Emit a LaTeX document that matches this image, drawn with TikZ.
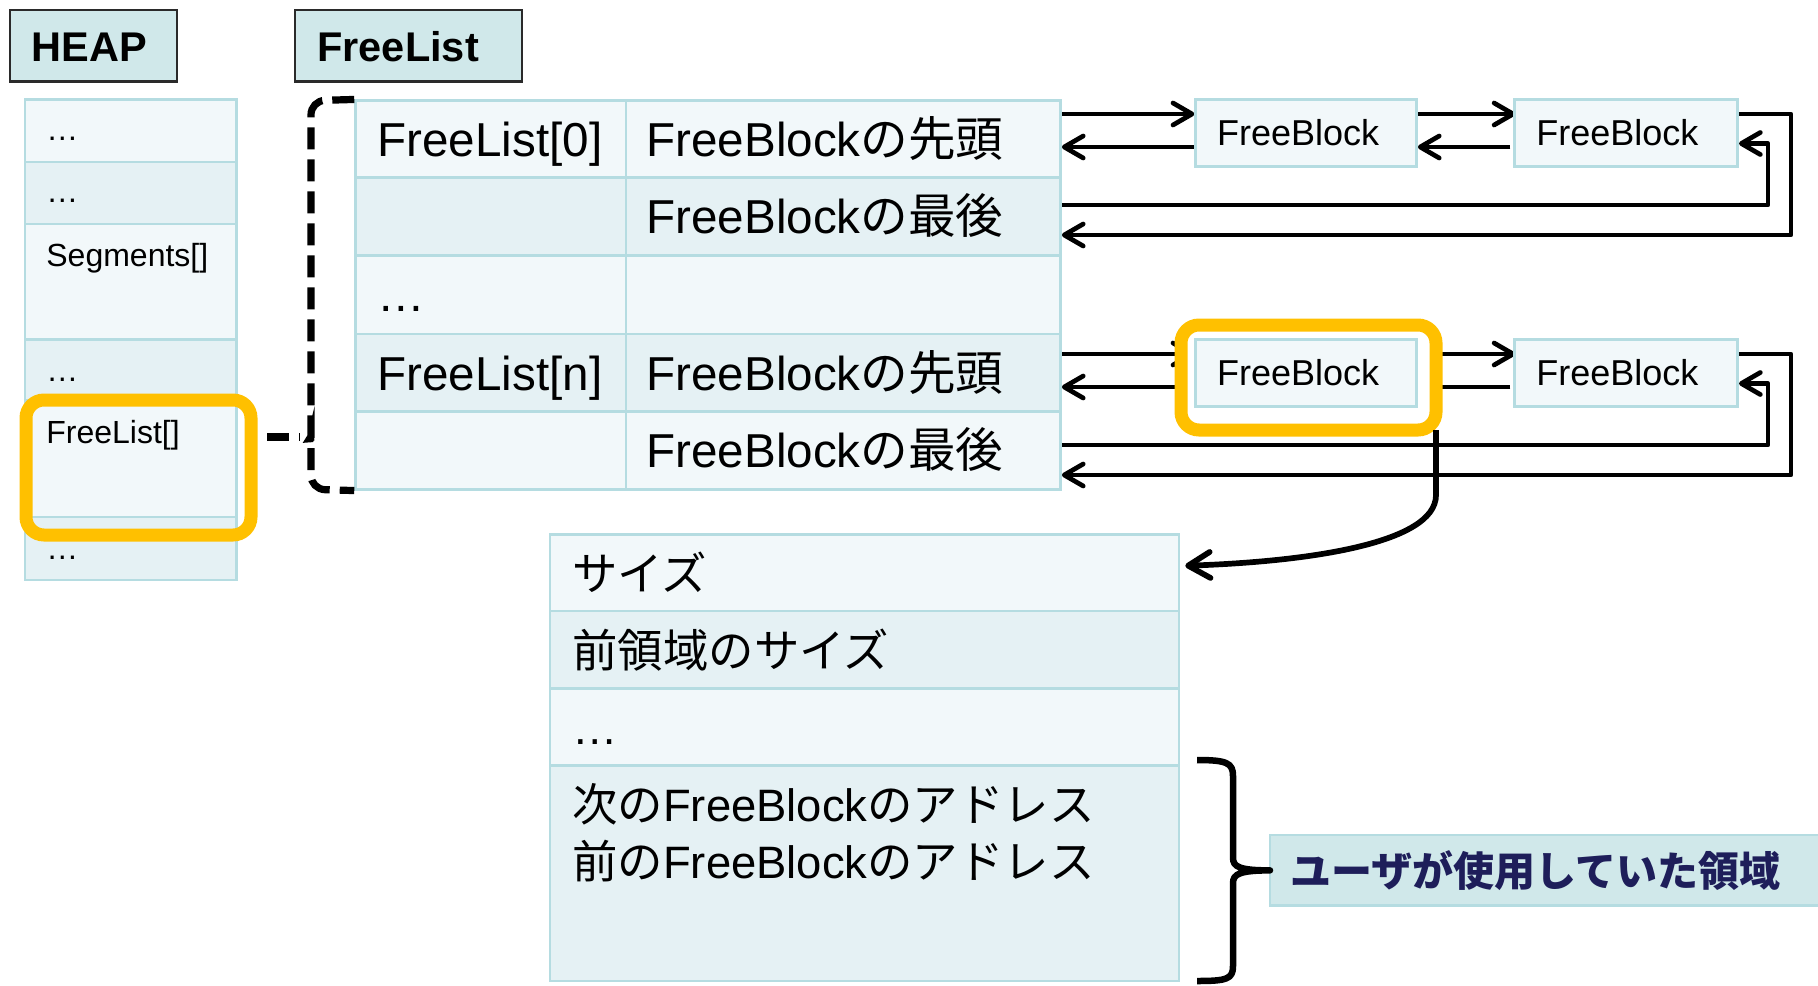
\documentclass[tikz,border=0pt]{standalone}
\usepackage{fontspec}
\setmainfont{Liberation Sans}
\newfontfamily\jp{Noto Sans CJK JP}
\usetikzlibrary{arrows.meta,fit}
\pgfdeclarelayer{wires}
\pgfsetlayers{wires,main}
\definecolor{hdrfill}{HTML}{D0E8EA}
\definecolor{hdrline}{HTML}{2A2A2A}
\definecolor{celllight}{HTML}{F2F8FA}
\definecolor{celldark}{HTML}{E5F1F4}
\definecolor{cellline}{HTML}{B5DCE1}
\definecolor{hlorange}{HTML}{FFC000}
\definecolor{navy}{HTML}{1E1E5A}
\begin{document}
\begin{tikzpicture}[x=0.5pt, y=-0.5pt,
  hdr/.style={draw=hdrline, fill=hdrfill, line width=1.35pt, inner sep=0pt},
  cellL/.style={draw=cellline, fill=celllight, line width=1.25pt, inner sep=0pt},
  cellD/.style={cellL, fill=celldark},
  tagbox/.style={draw=cellline, fill=hdrfill, line width=1.25pt, inner sep=0pt, outer sep=0pt},
  hilite/.style={draw=hlorange, line width=6.5pt, rounded corners=9pt, inner sep=0pt, outer sep=0pt},
  txt/.style={inner sep=0pt, anchor=base west},
  hdrtxt/.style={txt, font=\fontsize{20.75pt}{24pt}\selectfont\bfseries},
  heaptxt/.style={txt, font=\fontsize{16pt}{19pt}\selectfont},
  listtxt/.style={txt, font=\fontsize{23.8pt}{28pt}\selectfont},
  blktxt/.style={txt, font=\fontsize{18pt}{21pt}\selectfont},
  areatxt/.style={txt, font=\fontsize{22.7pt}{28pt}\selectfont},
  wire/.style={line width=2.35pt, line join=round},
  ptr/.style={wire, -{Straight Barb[length=9.5pt,width=11pt,round]}},
  bigptr/.style={line width=2.85pt, -{Straight Barb[length=11pt,width=13pt,round]}},
  dashwire/.style={line width=3.6pt, dash pattern=on 11pt off 5pt},
  brace/.style={line width=3.25pt, line join=round}]

\useasboundingbox (0,0) rectangle (1818,985);

% ---------- headers ----------
\node[hdr, fit={(10,10) (177,81.5)}] (heaphdr) {};
\node[hdrtxt] (heaphdrt) at (31.4,61) {HEAP};
\node[hdr, fit={(295,10) (522,81.5)}] (flhdr) {};
\node[hdrtxt] (flhdrt) at (317,61) {FreeList};

% ---------- heap column ----------
\node[cellL, fit={(25,99.5) (236.7,162)}] (h1) {};
\node[cellD, fit={(25,162) (236.7,224)}] (h2) {};
\node[cellL, fit={(25,224) (236.7,339.5)}] (h3) {};
\node[cellD, fit={(25,339.5) (236.7,400)}] (h4) {};
\node[cellL, fit={(25,400) (236.7,517)}] (h5) {};
\node[cellD, fit={(25,517) (236.7,580)}] (h6) {};
\node[heaptxt] (h1t) at (46,140) {…};
\node[heaptxt] (h2t) at (46,202) {…};
\node[heaptxt] (h3t) at (46,266) {Segments[]};
\node[heaptxt] (h4t) at (46,381) {…};
\node[heaptxt] (h5t) at (46,443) {FreeList[]};
\node[heaptxt] (h6t) at (46,559) {…};
\node[hilite, fit={(26,400) (251,535)}] (hlheap) {};

% ---------- free list table ----------
\node[cellL, fit={(355.5,100.7) (626,177.7)}] (c0) {};
\node[cellD, fit={(355.5,177.7) (626,255.7)}] (c1) {};
\node[cellL, fit={(355.5,255.7) (626,334)}] (c2) {};
\node[cellD, fit={(355.5,334) (626,411.7)}] (c3) {};
\node[cellL, fit={(355.5,411.7) (626,489.3)}] (c4) {};
\node[cellL, fit={(626,100.7) (1060.6,177.7)}] (d0) {};
\node[cellD, fit={(626,177.7) (1060.6,255.7)}] (d1) {};
\node[cellL, fit={(626,255.7) (1060.6,334)}] (d2) {};
\node[cellD, fit={(626,334) (1060.6,411.7)}] (d3) {};
\node[cellL, fit={(626,411.7) (1060.6,489.3)}] (d4) {};
\node[listtxt] (c0t) at (377,156.7) {FreeList[0]};
\node[listtxt] (c2t) at (377,311.7) {…};
\node[listtxt] (c3t) at (377,390) {FreeList[n]};
\node[listtxt] (d0t) at (646,156.7) {FreeBlock{\jp の先頭}};
\node[listtxt] (d1t) at (646,233.7) {FreeBlock{\jp の最後}};
\node[listtxt] (d3t) at (646,390) {FreeBlock{\jp の先頭}};
\node[listtxt] (d4t) at (646,467.7) {FreeBlock{\jp の最後}};

% dashed bracket gathering the table, fed from FreeList[]
\coordinate (nub) at (300,437);
\draw[dashwire, rounded corners=7pt] (c0.north west) -- (311,100.7) -- (311,424)
  .. controls (311,432) and (306,437) .. (nub)
  .. controls (306,437) and (311,442) .. (311,450) -- (311,489.3) -- (c4.south west);
\draw[dashwire, shorten <=8pt] (hlheap.east |- nub) -- (nub);

% ---------- free blocks ----------
\node[cellL, fit={(1195.6,99.5) (1416.6,166.5)}] (fb1) {};
\node[cellL, fit={(1514.7,99.5) (1737.7,166.5)}] (fb2) {};
\node[cellL, fit={(1195.6,339.5) (1416.6,406.5)}] (fb3) {};
\node[cellL, fit={(1514.7,339.5) (1737.7,406.5)}] (fb4) {};
\node[blktxt] (fb1t) at (1216.7,145) {FreeBlock};
\node[blktxt] (fb2t) at (1536,145) {FreeBlock};
\node[blktxt] (fb3t) at (1216.7,385) {FreeBlock};
\node[blktxt] (fb4t) at (1536,385) {FreeBlock};

% rail levels
\coordinate (r0f) at (0,114);   \coordinate (r0b) at (0,147);
\coordinate (r0i) at (0,143.5); \coordinate (r0l) at (0,205);
\coordinate (r0o) at (0,235);
\coordinate (r1f) at (0,354);   \coordinate (r1b) at (0,387);
\coordinate (r1i) at (0,383.5); \coordinate (r1l) at (0,445);
\coordinate (r1o) at (0,475);
\coordinate (xi) at (1768,0);   \coordinate (xo) at (1791,0);

\begin{pgfonlayer}{wires}
  % list 0
  \draw[ptr] (d0.east |- r0f) -- (fb1.west |- r0f);
  \draw[ptr] (fb1.west |- r0b) -- (d0.east |- r0b);
  \draw[ptr, shorten >=-1pt] (fb1.east |- r0f) -- (fb2.west |- r0f);
  \draw[ptr, shorten <=1.5pt] (fb2.west |- r0b) -- (fb1.east |- r0b);
  \draw[ptr] (fb2.east |- r0f) -- (xo |- r0f) -- (xo |- r0o) -- (d1.east |- r0o);
  \draw[ptr] (d1.east |- r0l) -- (xi |- r0l) -- (xi |- r0i) -- (fb2.east |- r0i);
  % list n
  \draw[ptr] (d3.east |- r1f) -- (fb3.west |- r1f);
  \draw[ptr] (fb3.west |- r1b) -- (d3.east |- r1b);
  \draw[ptr, shorten >=-1pt] (fb3.east |- r1f) -- (fb4.west |- r1f);
  \draw[ptr, shorten <=1.5pt] (fb4.west |- r1b) -- (fb3.east |- r1b);
  \draw[ptr] (fb4.east |- r1f) -- (xo |- r1f) -- (xo |- r1o) -- (d4.east |- r1o);
  \draw[ptr] (d4.east |- r1l) -- (xi |- r1l) -- (xi |- r1i) -- (fb4.east |- r1i);
  % highlighted block
  \node[hilite, fill=white, fit={(1181,325) (1436,430)}] (hlfb) {};
\end{pgfonlayer}

% ---------- block layout ----------
\node[cellL, fit={(550,534.5) (1179,611)}] (s1) {};
\node[cellD, fit={(550,611) (1179,688.5)}] (s2) {};
\node[cellL, fit={(550,688.5) (1179,765.5)}] (s3) {};
\node[cellD, fit={(550,765.5) (1179,981)}] (s4) {};
\node[areatxt] (s1t) at (572,590.5) {\jp サイズ};
\node[areatxt] (s2t) at (572,667) {\jp 前領域のサイズ};
\node[areatxt] (s3t) at (572,744.5) {…};
\node[areatxt] (s4t) at (572,821.5) {{\jp 次の}FreeBlock{\jp のアドレス}};
\node[areatxt] (s5t) at (572,878) {{\jp 前の}FreeBlock{\jp のアドレス}};

\draw[bigptr] (hlfb.south east) -- (1436,495)
  .. controls (1436,545) and (1300,562) .. ([shift={(5,-7)}]s1.east);

% user area label with brace
\node[tagbox, fit={(1270,835) (1830,905.7)}] (lbl) {};
\node[anchor=west, inner sep=0pt, text=navy, font=\fontsize{20.5pt}{24pt}\selectfont\jp\bfseries] (lblt) at (1290,870.4) {ユーザが使用していた領域};
\draw[brace] (1197,760) .. controls (1227,760) and (1233,763) .. (1233,776) -- (1233,858)
  .. controls (1233,867) and (1240,870.4) .. (lbl.west)
  .. controls (1240,870.4) and (1233,874) .. (1233,883) -- (1233,966)
  .. controls (1233,979) and (1227,981) .. (1197,981);

\end{tikzpicture}
\end{document}
